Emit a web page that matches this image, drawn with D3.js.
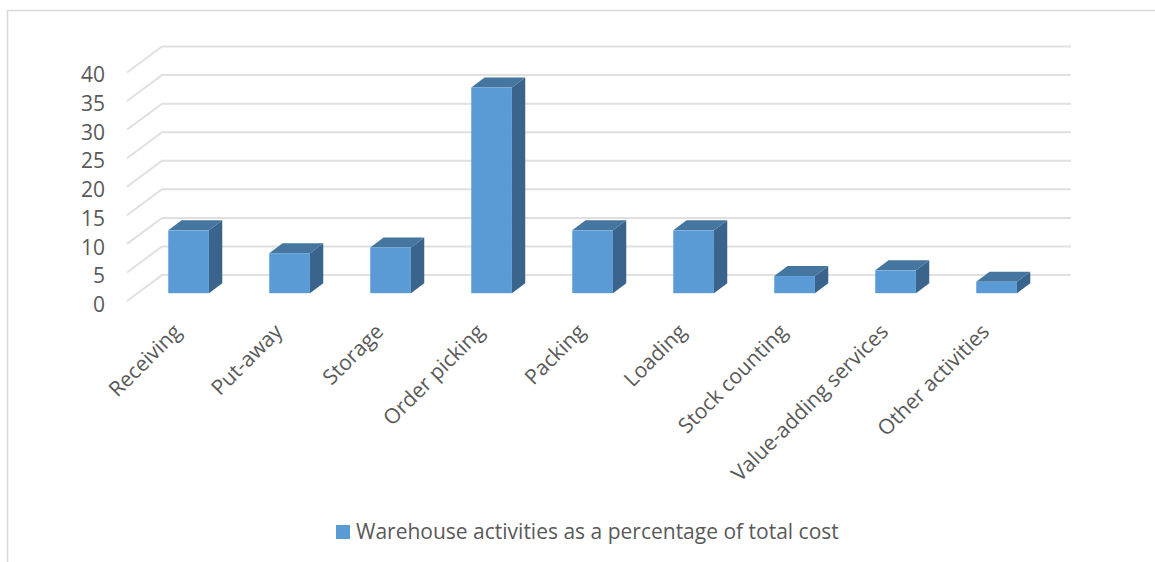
<!DOCTYPE html>
<html><head><meta charset="utf-8">
<script src="https://cdn.jsdelivr.net/npm/d3@7/dist/d3.min.js"></script>
<style>html,body{margin:0;padding:0;background:#fff;overflow:hidden}text{font-family:"Open Sans",sans-serif;fill:#595959}</style>
</head><body><svg id="c" width="1155" height="562"></svg>
<script>
const categories=["Receiving","Put-away","Storage","Order picking","Packing","Loading","Stock counting","Value-adding services","Other activities"];
const values=[11,7,8,36,11,11,3,4,2];
const yTicks=[0,5,10,15,20,25,30,35,40];
const seriesName="Warehouse activities as a percentage of total cost";

const svg=d3.select("#c");
svg.append("path").attr("d","M1155,10.5H7.5V562").attr("fill","none").attr("stroke","#d9d9d9").attr("stroke-width",1.6);

const gridDx=35, gridDy=-26;
const barDx=13.3, barDy=-10;
const yFront=d3.scaleLinear().domain([0,40]).range([301,72.5]);
const yBar=d3.scaleLinear().domain([0,40]).range([293.2,64.7]);
const yLabel=d3.scaleLinear().domain([0,40]).range([305,75]);
const x=d3.scaleBand().domain(categories).range([138.1,1047.1]).paddingInner(60.3/101).paddingOuter(30.15/101);

const grid=svg.append("g").attr("fill","none").attr("stroke","#e0e0e0").attr("stroke-width",2);
grid.selectAll("path").data(yTicks).join("path")
 .attr("d",d=>`M127,${yFront(d)}L${127+gridDx},${yFront(d)+gridDy}H1071`);

const bars=svg.append("g").selectAll("g").data(values).join("g");
const bw=x.bandwidth();
bars.append("path").attr("fill","#3a648c").attr("d",(d,i)=>{
 const r=x(categories[i])+bw,t=yBar(d),b=yBar(0);
 return `M${r},${t}l${barDx},${barDy}V${b+barDy}L${r},${b}Z`;});
bars.append("path").attr("fill","#44769f").attr("d",(d,i)=>{
 const l=x(categories[i]),t=yBar(d);
 return `M${l},${t}l${barDx},${barDy}h${bw}l${-barDx},${-barDy}Z`;});
bars.append("rect").attr("fill","#5b9bd5")
 .attr("x",(d,i)=>x(categories[i])).attr("y",d=>yBar(d))
 .attr("width",bw).attr("height",d=>yBar(0)-yBar(d));

const ya=svg.append("g").attr("transform","translate(105,0)")
 .call(d3.axisLeft(yLabel).tickValues(yTicks).tickSize(0).tickPadding(0));
ya.select(".domain").remove();
ya.selectAll("text").style("font-size","21px").style("fill","#595959");

const xa=svg.append("g").attr("transform","translate(-6,333)")
 .call(d3.axisBottom(x).tickSize(0).tickPadding(0));
xa.select(".domain").remove();
xa.selectAll("text").style("font-size","21px").style("fill","#595959")
 .attr("text-anchor","end").attr("dy",0).attr("y",0).attr("x",0)
 .attr("transform","rotate(-45)");

svg.append("rect").attr("x",336).attr("y",525).attr("width",14).attr("height",14).attr("fill","#5b9bd5");
svg.append("text").attr("x",356).attr("y",539).style("font-size","21px").text(seriesName);
</script></body></html>
